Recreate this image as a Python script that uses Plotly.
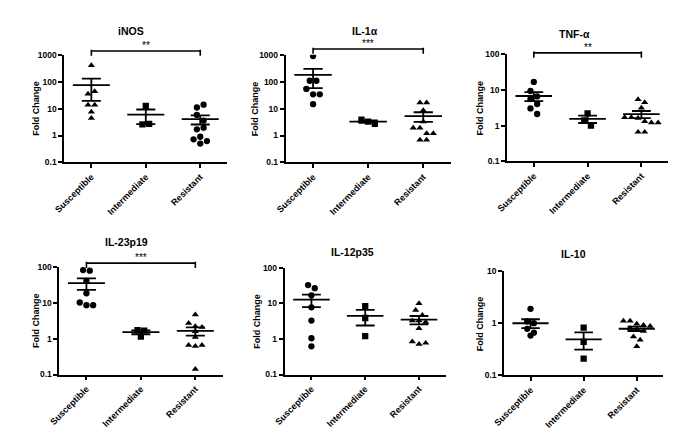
import numpy as np
import plotly.graph_objects as go

W, H = 685, 445

groups = ["Susceptible", "Intermediate", "Resistant"]
panel_titles = ["iNOS", "IL-1α", "TNF-α", "IL-23p19", "IL-12p35", "IL-10"]
y_axis_title = "Fold Change"

# tick values / labels (log axes)
ticks_4dec = [0.1, 1, 10, 100, 1000]
ticks_3dec = [0.1, 1, 10, 100]
ticks_2dec = [0.1, 1, 10]
tick_labels_4dec = ["0.1", "1", "10", "100", "1000"]
tick_labels_3dec = ["0.1", "1", "10", "100"]
tick_labels_2dec = ["0.1", "1", "10"]

# ---- data (fold change values per animal) ----
inos_susceptible = [408, 35, 44, 13.7, 13.7, 7.6, 4.4]
inos_intermediate = [12.6, 2.6, 2.7]
inos_resistant = [11, 14, 5.8, 3.6, 1.7, 1.95, 0.72, 0.9, 0.5, 0.62]

il1a_susceptible = [907, 109, 109, 54, 34, 34, 14.6]
il1a_intermediate = [3.9, 3.3, 2.7]
il1a_resistant = [16.7, 16.7, 8.5, 3.3, 1.9, 1.9, 1.2, 1.2, 0.68, 0.68]

tnfa_susceptible = [16.5, 9.2, 6.5, 5.5, 4.0, 3.0, 2.1]
tnfa_intermediate = [2.2, 1.4, 1.0]
tnfa_resistant = [5.4, 4.4, 3.1, 1.7, 1.7, 1.6, 1.3, 1.2, 1.2, 0.66, 0.66]

il23_susceptible = [82, 79, 41, 18.5, 10.2, 8.6, 8.6]
il23_intermediate = [1.74, 1.67, 1.14]
il23_resistant = [4.7, 2.7, 2.2, 2.1, 1.6, 1.1, 0.66, 0.62, 0.66, 0.14]

il12_susceptible = [33, 27, 17, 7.8, 3.3, 1.05, 0.62]
il12_intermediate = [8.4, 3.9, 1.2]
il12_resistant = [10, 6.5, 4.7, 3.3, 3.3, 3.0, 2.0, 0.84, 0.72, 0.77]

il10_susceptible = [1.88, 1.08, 1.0, 0.78, 0.66, 0.58]
il10_intermediate = [0.82, 0.44, 0.21]
il10_resistant = [1.1, 1.1, 0.97, 0.92, 0.88, 0.8, 0.75, 0.7, 0.55, 0.48, 0.36]

significance = ["**", "***", "**", "***", None, None]

panel_data = [
    [inos_susceptible, inos_intermediate, inos_resistant],
    [il1a_susceptible, il1a_intermediate, il1a_resistant],
    [tnfa_susceptible, tnfa_intermediate, tnfa_resistant],
    [il23_susceptible, il23_intermediate, il23_resistant],
    [il12_susceptible, il12_intermediate, il12_resistant],
    [il10_susceptible, il10_intermediate, il10_resistant],
]
panel_ticks = [(ticks_4dec, tick_labels_4dec), (ticks_4dec, tick_labels_4dec),
               (ticks_3dec, tick_labels_3dec), (ticks_3dec, tick_labels_3dec),
               (ticks_3dec, tick_labels_3dec), (ticks_2dec, tick_labels_2dec)]

# ---- styles / layout (pixel boxes of plot areas) ----
boxes = [(54, 220, 51, 161), (279, 447, 51, 161), (504, 668, 50, 160),
         (49, 215, 268, 378), (278, 442, 269, 378), (501, 663, 272, 379)]
title_shift = [(-15, 24), (-3, 24), (-13, 20), (-14, 25), (-13, 16), (-10, 17)]
ytitle_shift = [-29, -31, -27, -23, -27, -24]
sig_y = [1.036, 1.055, 1.009, 1.036]
symbols = [["triangle-up", "square", "circle"]] + [["circle", "square", "triangle-up"]] * 5
FONT = "Arial, Liberation Sans, sans-serif"
INK = "#000000"


def swarm(values, ppd, ppu, d=6.8):
    logs = np.log10(np.asarray(values, float)) * ppd
    order = np.argsort(-logs, kind="stable")
    rows = []
    for i in order:
        if rows and abs(logs[rows[-1][0]] - logs[i]) < d * 0.85:
            rows[-1].append(i)
        else:
            rows.append([i])
    offs = np.zeros(len(values))
    for row in rows:
        row = sorted(row)
        n = len(row)
        for k, i in enumerate(row):
            offs[i] = (k - (n - 1) / 2) * d / ppu
    return offs


fig = go.Figure()
layout = {}
annotations = []
shapes = []

for p in range(6):
    x0, x1, y0, y1 = boxes[p]
    xa = "x" if p == 0 else f"x{p+1}"
    ya = "y" if p == 0 else f"y{p+1}"
    tv, tt = panel_ticks[p]
    ymin, ymax = np.log10(tv[0]), np.log10(tv[-1])
    ppd = (y1 - y0) / (ymax - ymin)
    ppu = (x1 - x0) / 3.0

    for g in range(3):
        vals = np.asarray(panel_data[p][g], float)
        offs = swarm(vals, ppd, ppu)
        fig.add_trace(go.Scatter(
            x=g + offs, y=vals, mode="markers", xaxis=xa, yaxis=ya,
            marker=dict(symbol=symbols[p][g], size=6.3, color=INK, line=dict(width=0)),
            showlegend=False, hoverinfo="y"))
        mean = vals.mean()
        sem = vals.std(ddof=1) / np.sqrt(len(vals))
        lo, hi = mean - sem, mean + sem
        mw, cw = 0.34, 0.175
        xs = [g - mw, g + mw, None, g, g, None, g - cw, g + cw, None, g - cw, g + cw]
        ys = [mean, mean, None, lo, hi, None, hi, hi, None, lo, lo]
        fig.add_trace(go.Scatter(
            x=xs, y=ys, mode="lines", xaxis=xa, yaxis=ya,
            line=dict(color=INK, width=1.8), showlegend=False, hoverinfo="skip"))

    key = "" if p == 0 else str(p + 1)
    layout["xaxis" + key] = dict(
        domain=[x0 / W, x1 / W], anchor=ya, range=[-0.5, 2.5],
        tickvals=[0, 1, 2], ticktext=groups, tickangle=-45,
        tickfont=dict(family=FONT, size=9, color=INK, weight="bold"),
        showline=True, linecolor=INK, linewidth=1.5, ticks="outside",
        ticklen=4, tickwidth=1.5, tickcolor=INK, showgrid=False, zeroline=False,
        fixedrange=True)
    layout["yaxis" + key] = dict(
        domain=[1 - y1 / H, 1 - y0 / H], anchor=xa, type="log",
        range=[ymin, ymax], tickvals=tv, ticktext=tt,
        tickfont=dict(family=FONT, size=8.5, color=INK, weight="bold"),
        showline=True, linecolor=INK, linewidth=1.5, ticks="outside",
        ticklen=4, tickwidth=1.5, tickcolor=INK, showgrid=False, zeroline=False,
        fixedrange=True)

    dx, dy = title_shift[p]
    annotations.append(dict(
        text=f"<b>{panel_titles[p]}</b>", xref=xa + " domain", yref=ya + " domain",
        x=0.5, y=1, xshift=dx, yshift=dy, showarrow=False, xanchor="center",
        yanchor="middle", font=dict(family=FONT, size=10.5, color=INK)))
    annotations.append(dict(
        text=y_axis_title, xref=xa + " domain", yref=ya + " domain",
        x=0, y=0.5, xshift=ytitle_shift[p], showarrow=False, textangle=-90,
        xanchor="center", yanchor="middle",
        font=dict(family=FONT, size=9, color=INK, weight="bold")))

    if significance[p]:
        sy = sig_y[p]
        cap = 0.045
        for (ax0, ay0, ax1, ay1) in [(0, sy, 2, sy), (0, sy + 0.012, 0, sy - cap),
                                    (2, sy + 0.012, 2, sy - cap)]:
            shapes.append(dict(type="line", xref=xa, yref=ya + " domain",
                               x0=ax0, x1=ax1, y0=ay0, y1=ay1,
                               line=dict(color=INK, width=1.6)))
        annotations.append(dict(
            text=significance[p], xref=xa, yref=ya + " domain", x=1, y=sy,
            yshift=-2, showarrow=False, xanchor="center", yanchor="bottom",
            font=dict(family=FONT, size=10, color=INK)))

fig.update_layout(
    width=W, height=H, margin=dict(l=0, r=0, t=0, b=0),
    paper_bgcolor="white", plot_bgcolor="white",
    annotations=annotations, shapes=shapes, showlegend=False, **layout)

fig.write_html("out.html", config={"displayModeBar": False},
               post_script="document.body.style.margin='0';")
